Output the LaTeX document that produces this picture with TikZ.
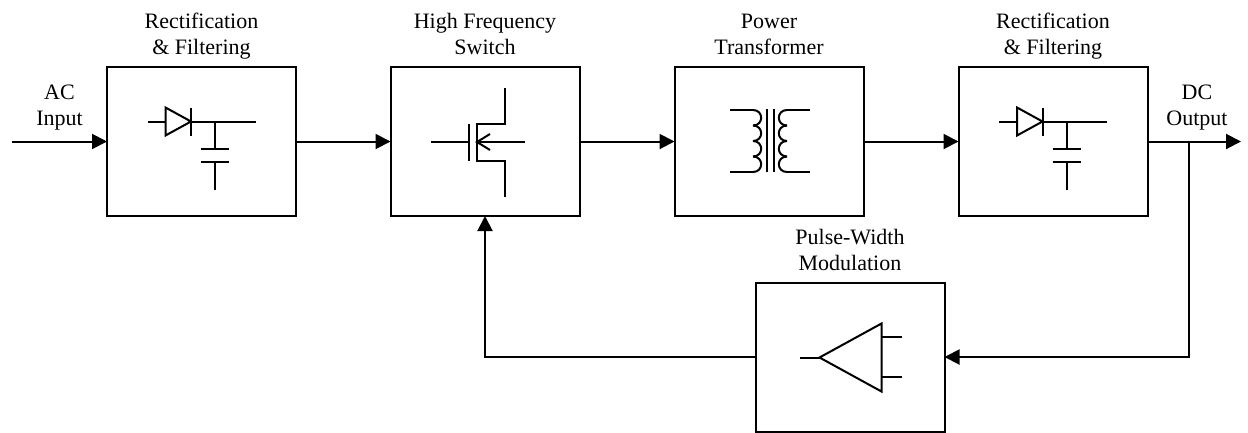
\documentclass[tikz,border=0pt]{standalone}
\usepackage{fontspec}
\setmainfont{Liberation Serif}
\usetikzlibrary{positioning}
\usetikzlibrary{arrows.meta}
\tikzset{
  block/.style={draw, line width=2pt, minimum width=189pt, minimum height=149pt, outer sep=0pt},
  caption/.style={align=center, font=\fontsize{22}{26.5}\selectfont, inner sep=0pt, text depth=5pt},
  wire/.style={line width=2pt, -{Triangle[length=15pt,width=15pt]}},
  part/.style={line width=2pt},
  rectfilter/.pic={
    \draw [part] (-54,-20) -- (-36,-20);
    \draw [part] (-36,-34) -- (-36,-6) -- (-10.5,-20) -- cycle;
    \draw [part] (-10.5,-34) -- (-10.5,-6);
    \draw [part] (-10.5,-20) -- (54,-20);
    \draw [part] (13.5,-20) -- (13.5,7);
    \draw [part] (-0.5,7) -- (27.5,7);
    \draw [part] (-0.5,20) -- (27.5,20);
    \draw [part] (13.5,20) -- (13.5,48);
  }
}
\begin{document}
\begin{tikzpicture}[x=1pt, y=-1pt]
  \useasboundingbox (0,0) rectangle (1248,432);
  \node [block] (rectin) at (201.5,141.5) {};
  \node [block] (switch) at (485,141.5) {};
  \node [block] (xfmr) at (769,141.5) {};
  \node [block] (rectout) at (1053,141.5) {};
  \node [block] (pwm) at (850,357) {};

  \node [caption, above=7pt of rectin] (rectinlabel) {Rectification\\\& Filtering};
  \node [caption, above=7pt of switch] (switchlabel) {High Frequency\\Switch};
  \node [caption, above=7pt of xfmr] (xfmrlabel) {Power\\Transformer};
  \node [caption, above=7pt of rectout] (rectoutlabel) {Rectification\\\& Filtering};
  \node [caption, above=6.5pt of pwm] (pwmlabel) {Pulse-Width\\Modulation};
  \node [caption, anchor=south] (aclabel) at (59.5,131) {AC\\Input};
  \node [caption, anchor=south] (dclabel) at (1197,131) {DC\\Output};

  \coordinate (acin) at (12,141.5);
  \coordinate (dcout) at (1241,141.5);
  \coordinate (tap) at (1188.5,141.5);

  % forward path
  \draw [wire] (acin) -- (rectin);
  \draw [wire] (rectin) -- (switch);
  \draw [wire] (switch) -- (xfmr);
  \draw [wire] (xfmr) -- (rectout);
  \draw [wire] (rectout) -- (dcout);
  % feedback
  \draw [wire] (tap) |- (pwm.east);
  \draw [wire] (pwm.west) -| (switch.south);

  \pic at (rectin.center) {rectfilter};
  \pic at (rectout.center) {rectfilter};

  % mosfet
  \draw [part] (431,142) -- (468.5,142);
  \draw [part] (468.5,123.5) -- (468.5,161);
  \draw [part] (505,87.5) -- (505,123.5) -- (476.5,123.5) -- (476.5,161) -- (505,161) -- (505,196.5);
  \draw [part] (525,142) -- (477,142);
  \draw [part] (490,134) -- (477,142) -- (490,150);

  % transformer
  \draw [part] (730,110) -- (753,110);
  \draw [part] (730,172) -- (753,172);
  \draw [part] (810,110) -- (787,110);
  \draw [part] (810,172) -- (787,172);
  \foreach \y in {110,125.5,141,156.5} {
    \draw [part] (753,\y) to [out=0, in=0, looseness=1.8] (753,\y+15.5);
    \draw [part] (787,\y) to [out=180, in=180, looseness=1.8] (787,\y+15.5);
  }
  \draw [part] (767,109) -- (767,172);
  \draw [part] (773.5,109) -- (773.5,172);

  % amplifier
  \draw [part] (799.5,357.5) -- (819.5,357.5);
  \draw [part] (819.5,357.5) -- (881.5,323.5) -- (881.5,391.5) -- cycle;
  \draw [part] (881.5,337) -- (901.5,337);
  \draw [part] (881.5,377) -- (901.5,377);
\end{tikzpicture}
\end{document}
